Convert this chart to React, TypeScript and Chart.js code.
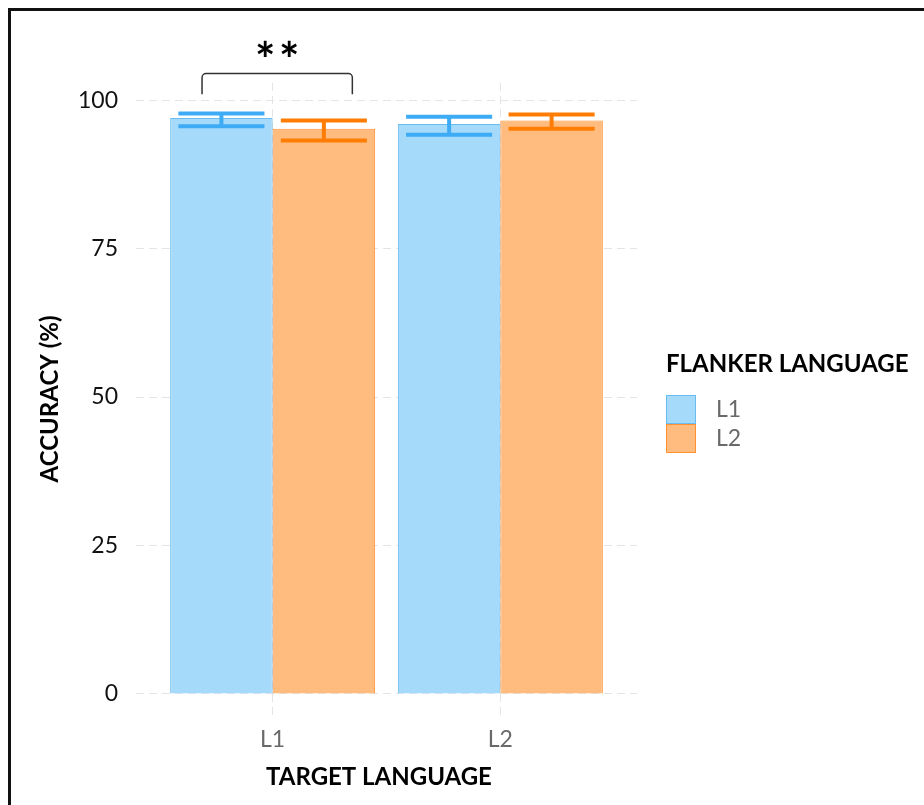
import React, { useEffect, useRef } from "react";
import { Chart, registerables } from "chart.js";

Chart.register(...registerables);

const CATEGORIES = ["L1", "L2"];
const CATEGORY_X = [1, 2];
const SERIES_NAMES = ["L1", "L2"];
const L1_VALUES = [97.0, 96.0];
const L2_VALUES = [95.2, 96.6];
const L1_ERR_LOW = [95.6, 94.2];
const L1_ERR_HIGH = [97.75, 97.2];
const L2_ERR_LOW = [93.2, 95.2];
const L2_ERR_HIGH = [96.6, 97.6];
const Y_TICKS = [0, 25, 50, 75, 100];
const SIG_X = [0.69, 1.35];
const SIG_Y_TOP = 104.5;
const SIG_Y_BOTTOM = 101.0;
const SIG_LABEL = "*";
const SIG_COUNT = 2;
const X_TITLE = "TARGET LANGUAGE";
const Y_TITLE = "ACCURACY (%)";
const LEGEND_TITLE = "FLANKER LANGUAGE";

const FONT = "Lato, 'Open Sans', sans-serif";
const BLUE_FILL = "rgb(166,218,250)";
const BLUE_BORDER = "rgb(105,188,240)";
const BLUE_ERR = "rgb(62,172,245)";
const ORANGE_FILL = "rgb(255,188,126)";
const ORANGE_BORDER = "rgb(255,145,50)";
const ORANGE_ERR = "rgb(255,125,5)";

const ERR_LOW = [L1_ERR_LOW, L2_ERR_LOW];
const ERR_HIGH = [L1_ERR_HIGH, L2_ERR_HIGH];
const ERR_COLORS = [BLUE_ERR, ORANGE_ERR];

const overlayPlugin = {
  id: "overlay",
  afterDatasetsDraw(chart: any) {
    const ctx = chart.ctx;
    const y = chart.scales.y;
    const x = chart.scales.x;
    chart.data.datasets.forEach((ds: any, di: number) => {
      const meta = chart.getDatasetMeta(di);
      meta.data.forEach((bar: any, i: number) => {
        const cx = bar.x;
        const half = (bar.width * 0.84) / 2;
        const yl = y.getPixelForValue(ERR_LOW[di][i]);
        const yh = y.getPixelForValue(ERR_HIGH[di][i]);
        ctx.save();
        ctx.strokeStyle = ERR_COLORS[di];
        ctx.lineWidth = 4;
        ctx.beginPath();
        ctx.moveTo(cx - half, yh);
        ctx.lineTo(cx + half, yh);
        ctx.moveTo(cx - half, yl);
        ctx.lineTo(cx + half, yl);
        ctx.moveTo(cx, yh);
        ctx.lineTo(cx, yl);
        ctx.stroke();
        ctx.restore();
      });
    });
    const x1 = x.getPixelForValue(SIG_X[0]);
    const x2 = x.getPixelForValue(SIG_X[1]);
    const yt = y.getPixelForValue(SIG_Y_TOP);
    const yb = y.getPixelForValue(SIG_Y_BOTTOM);
    ctx.save();
    ctx.strokeStyle = "#333";
    ctx.lineWidth = 1.5;
    ctx.beginPath();
    ctx.moveTo(x1, yb);
    ctx.arcTo(x1, yt, x1 + 6, yt, 4);
    ctx.arcTo(x2, yt, x2, yb, 4);
    ctx.lineTo(x2, yb);
    ctx.stroke();
    ctx.fillStyle = "#000";
    ctx.font = `bold 48px ${FONT}`;
    ctx.textAlign = "center";
    ctx.textBaseline = "alphabetic";
    const mid = (x1 + x2) / 2;
    const gap = 24;
    for (let k = 0; k < SIG_COUNT; k++) {
      const cx = mid + (k - (SIG_COUNT - 1) / 2) * gap;
      ctx.fillText(SIG_LABEL, cx, yt + 3);
    }
    ctx.restore();
  },
  afterDraw(chart: any) {
    const ctx = chart.ctx;
    ctx.save();
    ctx.fillStyle = "#000";
    ctx.font = `bold 24px ${FONT}`;
    ctx.textAlign = "center";
    ctx.textBaseline = "middle";
    ctx.fillText(X_TITLE, 379, 777);
    ctx.textAlign = "left";
    ctx.fillText(LEGEND_TITLE, 666, 364);
    chart.data.datasets.forEach((ds: any, i: number) => {
      const top = 395 + i * 29;
      ctx.fillStyle = ds.backgroundColor;
      ctx.fillRect(666, top, 30, 29);
      ctx.strokeStyle = ds.borderColor;
      ctx.lineWidth = 1;
      ctx.strokeRect(666.5, top + 0.5, 29, 28);
      ctx.fillStyle = "rgb(105,105,105)";
      ctx.font = `23px ${FONT}`;
      ctx.fillText(ds.label, 716, top + 15);
    });
    ctx.restore();
  },
};

export default function App() {
  const ref = useRef<HTMLCanvasElement | null>(null);
  useEffect(() => {
    if (!ref.current) return;
    const chart = new Chart(ref.current, {
      type: "bar",
      data: {
        datasets: [
          {
            label: SERIES_NAMES[0],
            data: CATEGORY_X.map((x, i) => ({ x, y: L1_VALUES[i] })),
            backgroundColor: BLUE_FILL,
            borderColor: BLUE_BORDER,
            borderWidth: 1,
          },
          {
            label: SERIES_NAMES[1],
            data: CATEGORY_X.map((x, i) => ({ x, y: L2_VALUES[i] })),
            backgroundColor: ORANGE_FILL,
            borderColor: ORANGE_BORDER,
            borderWidth: 1,
          },
        ],
      },
      plugins: [overlayPlugin],
      options: {
        animation: false,
        responsive: false,
        devicePixelRatio: 1,
        categoryPercentage: 0.9,
        barPercentage: 1.0,
        layout: { padding: { left: 0, top: 83, right: 287, bottom: 0 } },
        plugins: { legend: { display: false }, tooltip: { enabled: false } },
        scales: {
          x: {
            type: "linear",
            min: 0.4,
            max: 2.6,
            offset: false,
            afterBuildTicks: (s: any) => {
              s.ticks = CATEGORY_X.map((v) => ({ value: v }));
            },
            afterFit: (s: any) => {
              s.height = 90;
            },
            ticks: {
              callback: (v: any) => CATEGORIES[CATEGORY_X.indexOf(v)] ?? "",
              color: "rgb(105,105,105)",
              font: { family: FONT, size: 23 },
              padding: 11,
              autoSkip: false,
              maxRotation: 0,
            },
            grid: { color: "rgb(228,228,228)", lineWidth: 1, drawTicks: false, offset: false },
            border: { display: false, dash: [8, 5] },
            title: { display: false },
          },
          y: {
            min: -3.55,
            max: 102.9,
            afterBuildTicks: (s: any) => {
              s.ticks = Y_TICKS.map((v) => ({ value: v }));
            },
            afterFit: (s: any) => {
              s.width = 136;
            },
            ticks: {
              color: "#111",
              font: { family: FONT, size: 23 },
              padding: 18,
            },
            grid: { color: "rgb(228,228,228)", lineWidth: 1, drawTicks: false },
            border: { display: false, dash: [8, 5] },
            title: {
              display: true,
              text: Y_TITLE,
              color: "#000",
              font: { family: FONT, size: 24, weight: "bold" },
              padding: { top: 36, bottom: 0 },
            },
          },
        },
      } as any,
    });
    return () => chart.destroy();
  }, []);
  return (
    <div style={{ position: "fixed", left: 0, top: 0, width: 924, height: 805, background: "#fff", overflow: "hidden" }}>
      <div
        style={{
          position: "absolute",
          left: 8,
          top: 8,
          width: 1000,
          height: 1000,
          borderLeft: "3px solid #111",
          borderTop: "3px solid #111",
        }}
      />
      <canvas ref={ref} width={924} height={805} style={{ position: "absolute", left: 0, top: 0 }} />
    </div>
  );
}
